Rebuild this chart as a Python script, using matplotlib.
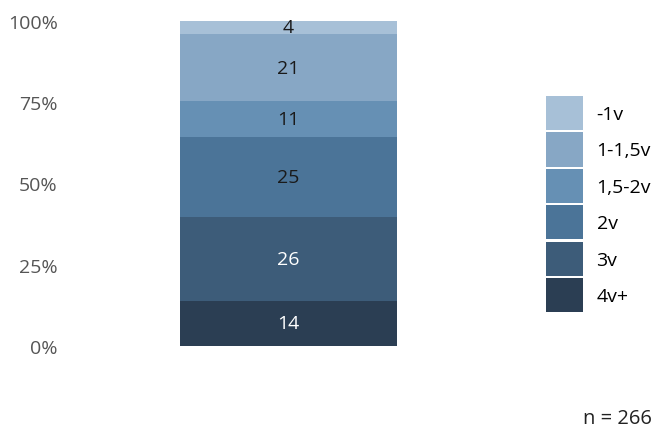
import matplotlib
matplotlib.use("Agg")
import matplotlib.pyplot as plt
from matplotlib.patches import Patch

plt.rcParams['font.family'] = ['Open Sans', 'DejaVu Sans']

categories = ["4v+", "3v", "2v", "1,5-2v", "1-1,5v", "-1v"]
values = [14, 26, 25, 11, 21, 4]
colors = ["#2b3e53", "#3d5c79", "#4b7498", "#6690b4", "#87a7c5", "#a7c0d7"]
text_colors = ["white", "white", "#1a1a1a", "#1a1a1a", "#1a1a1a", "#1a1a1a"]
yticks = [0, 25, 50, 75, 100]
ytick_labels = ["0%", "25%", "50%", "75%", "100%"]
n_label = "n = 266"

W, H = 655, 431
fig = plt.figure(figsize=(W / 100, H / 100), dpi=100)
ax = fig.add_axes([180 / W, 1 - 347 / H, (397 - 180) / W, (347 - 22) / H])

total = sum(values)
bottom = 0.0
for v, c, tc in zip(values, colors, text_colors):
    h = v / total * 100
    ax.bar(0, h, width=1.0, bottom=bottom, color=c, edgecolor="none")
    ax.text(0, bottom + h / 2, str(v), ha="center", va="center",
            fontsize=14, color=tc)
    bottom += h

ax.set_xlim(-0.5, 0.5)
ax.set_ylim(0, 100)
ax.set_yticks(yticks)
ax.set_yticklabels(ytick_labels, fontsize=14, color="#555555")
ax.tick_params(axis="y", length=0, pad=88)
ax.set_xticks([])
for s in ax.spines.values():
    s.set_visible(False)

handles = [Patch(facecolor=c, edgecolor="none", label=l)
           for c, l in zip(colors[::-1], categories[::-1])]
fig.legend(handles=handles, loc="upper left",
           bbox_to_anchor=(546 / W, 1 - 97 / H),
           frameon=False, fontsize=14, handlelength=1.9, handleheight=2.32,
           labelspacing=0.12, handletextpad=0.7, borderpad=0, borderaxespad=0)

fig.text(1 - 3 / W, 1 - 424 / H, n_label, ha="right", va="baseline",
         fontsize=14.5, color="#222222")

fig.savefig("out.png", dpi=100)
